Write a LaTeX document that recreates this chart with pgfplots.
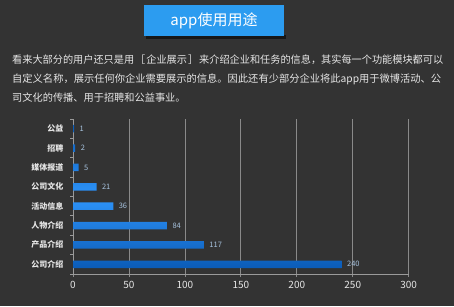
\documentclass[border=0pt]{standalone}
\usepackage{pgfplots}
\pgfplotsset{compat=1.18}
\usepackage{fontspec}
\setmainfont{Noto Sans CJK SC}
\definecolor{bg}{HTML}{333333}
\definecolor{titleblue}{HTML}{2C9CF0}
\definecolor{axisgray}{HTML}{9A9A9A}
\definecolor{gridgray}{HTML}{8A8A8A}
\definecolor{txt}{HTML}{E6E6E6}
\definecolor{valcol}{HTML}{A8C4E0}
\definecolor{barmid}{HTML}{2E94FA}
\definecolor{barout}{HTML}{0B5CB8}
\begin{document}
\begin{tikzpicture}[x=1pt,y=1pt]
\fill[bg] (0,0) rectangle (454,306);
\fill[black, opacity=0.55] (146,267.5) rectangle (286,271);
\fill[titleblue] (144,270) rectangle (284,301);
\node[white, font=\fontsize{15}{15}\selectfont] at (214,285.5) {app使用用途};
\node[anchor=west, inner sep=0, txt, font=\fontsize{10.2}{10.2}\selectfont] at (12,246) {\resizebox{431pt}{\height}{看来大部分的用户还只是用\hspace{1pt}［\hspace{1pt}企业展示\hspace{1pt}］\hspace{1pt}来介绍企业和任务的信息，其实每一个功能模块都可以}};
\node[anchor=west, inner sep=0, txt, font=\fontsize{10.2}{10.2}\selectfont] at (12,227) {\resizebox{429pt}{\height}{自定义名称，展示任何你企业需要展示的信息。因此还有少部分企业将此app用于微博活动、公}};
\node[anchor=west, inner sep=0, txt, font=\fontsize{10.2}{10.2}\selectfont] at (12,208.5) {司文化的传播、用于招聘和公益事业。};
\begin{axis}[
  at={(73pt,32pt)}, anchor=south west,
  scale only axis, width=335.7pt, height=155pt,
  xbar, bar width=7.5pt,
  xmin=0, xmax=300, ymin=-0.5, ymax=7.5,
  axis lines=left,
  axis line style={-, draw=axisgray, line width=0.8pt},
  xtick={0,50,...,300},
  ytick={0,...,7},
  yticklabels={公司介绍,产品介绍,人物介绍,活动信息,公司文化,媒体报道,招聘,公益},
  minor ytick={-0.5,0.5,...,7.5},
  tick align=outside,
  major tick length=3pt, minor tick length=3pt,
  every major y tick/.style={draw=none},
  every minor y tick/.style={draw=axisgray, line width=0.8pt},
  every major x tick/.style={draw=gridgray, line width=0.8pt},
  xmajorgrids,
  major grid style={draw=gridgray, line width=0.8pt},
  /pgf/number format/assume math mode=true,
  xticklabel style={font=\fontsize{10}{10}\selectfont, color=txt, yshift=-1pt},
  yticklabel style={font=\bfseries\fontsize{8}{8}\selectfont, color=txt, xshift=-3pt},
  nodes near coords,
  nodes near coords style={font=\fontsize{7.5}{7.5}\selectfont, color=valcol, xshift=2pt},
  clip=false,
]
\addplot[draw=none, top color=barout, bottom color=barout, middle color=barmid] coordinates {(240,0) (117,1) (84,2) (36,3) (21,4) (5,5) (2,6) (1,7)};
\end{axis}
\end{tikzpicture}
\end{document}
